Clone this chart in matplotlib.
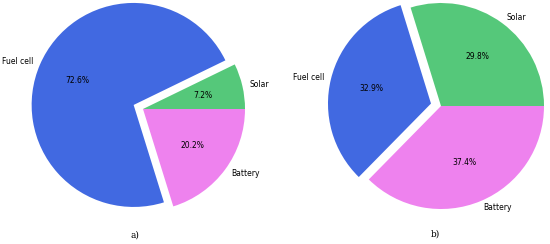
import matplotlib
matplotlib.use("Agg")
import matplotlib.pyplot as plt

labels = ["Solar", "Fuel cell", "Battery"]
share_a = [7.2, 72.6, 20.2]
share_b = [29.8, 32.9, 37.4]
explode = [0, 0.1, 0]
colors = ["#55c87a", "#4169e1", "#ee82ee"]

fig = plt.figure(figsize=(5.5, 2.44), dpi=100)

# axes placed in pixels so the pies sit where they do in the original
W, H = 550, 244
ax1 = fig.add_axes([15.5 / W, 7.5 / H, 255 / W, 255 / H])
ax2 = fig.add_axes([312.25 / W, 9.25 / H, 257.5 / W, 257.5 / H])

for ax, vals in [(ax1, share_a), (ax2, share_b)]:
    ax.pie(vals, labels=labels, colors=colors, explode=explode,
           autopct="%1.1f%%", startangle=0, labeldistance=1.07,
           textprops={"fontsize": 5.5})

fig.text(135 / W, 1 - 235 / H, "a)", family="serif", fontsize=6.5,
         ha="center", va="center")
fig.text(435 / W, 1 - 234 / H, "b)", family="serif", fontsize=6.5,
         ha="center", va="center")

fig.savefig("out.png", dpi=100)
